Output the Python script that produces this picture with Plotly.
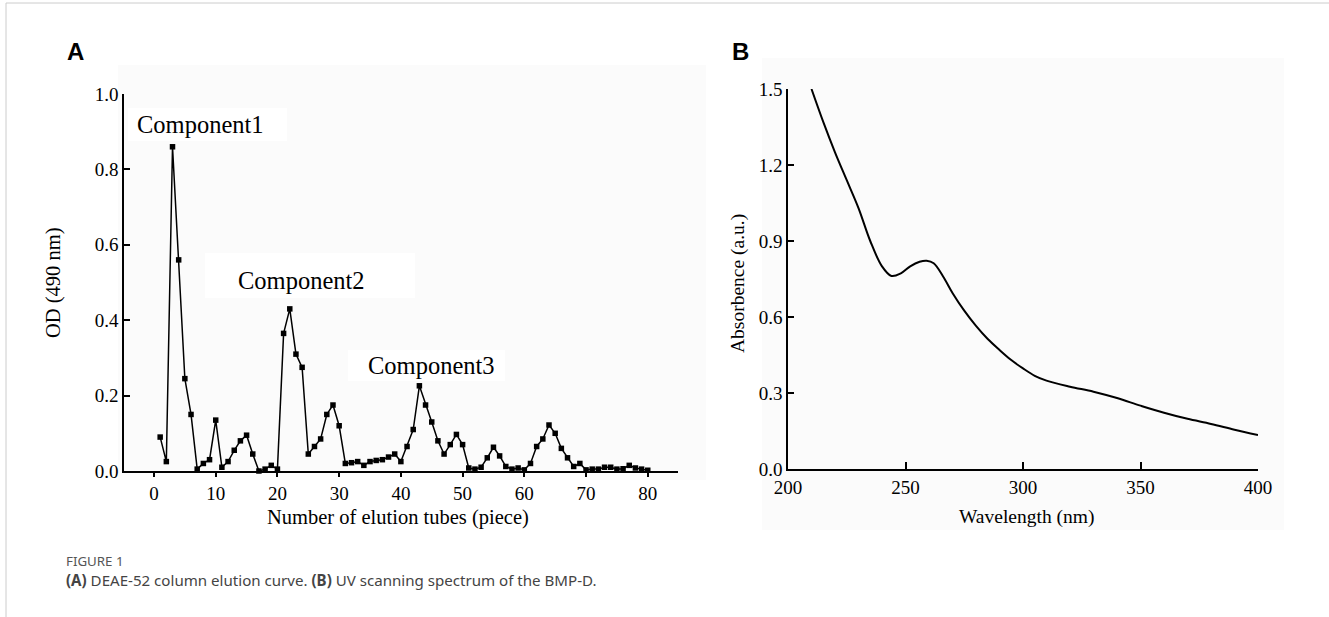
import plotly.graph_objects as go

# Panel A: DEAE-52 elution curve
tubes = list(range(1, 81))
od490 = [0.09, 0.025, 0.86, 0.56, 0.245, 0.15, 0.005, 0.02, 0.03, 0.135,
         0.01, 0.025, 0.055, 0.08, 0.095, 0.045, 0.0, 0.005, 0.015, 0.005,
         0.365, 0.43, 0.31, 0.275, 0.045, 0.065, 0.085, 0.15, 0.175, 0.12,
         0.02, 0.022, 0.025, 0.015, 0.025, 0.028, 0.03, 0.037, 0.045, 0.025,
         0.065, 0.11, 0.226, 0.175, 0.13, 0.08, 0.045, 0.07, 0.097, 0.07,
         0.008, 0.005, 0.01, 0.035, 0.063, 0.04, 0.012, 0.005, 0.008, 0.003,
         0.02, 0.065, 0.085, 0.122, 0.1, 0.06, 0.035, 0.012, 0.02, 0.003,
         0.005, 0.005, 0.01, 0.01, 0.005, 0.006, 0.015, 0.008, 0.005, 0.002]
component_labels = ["Component1", "Component2", "Component3"]
component_x = [-3.1, 13.3, 34.3]
component_y = [0.918, 0.504, 0.279]

# Panel B: UV scanning spectrum
wavelength = [210, 215, 220, 225, 230, 235, 240, 244, 248, 252, 256, 259, 262,
              266, 270, 275, 280, 285, 290, 295, 300, 305, 310, 320, 330, 340, 350,
              360, 370, 380, 390, 400]
absorbance = [1.50, 1.37, 1.25, 1.14, 1.03, 0.90, 0.80, 0.762, 0.772, 0.80, 0.818,
              0.822, 0.812, 0.76, 0.695, 0.625, 0.565, 0.513, 0.47, 0.43, 0.397,
              0.368, 0.349, 0.325, 0.305, 0.28, 0.25, 0.222, 0.198, 0.178, 0.155, 0.134]

serif = "Liberation Serif, Times New Roman, serif"
sans = "Noto Sans, Open Sans, sans-serif"

fig = go.Figure()
fig.add_trace(go.Scatter(x=tubes, y=od490, mode="lines+markers",
                         line=dict(color="black", width=1.5),
                         marker=dict(symbol="square", size=5.5, color="black"),
                         cliponaxis=False, xaxis="x", yaxis="y", showlegend=False))
fig.add_trace(go.Scatter(x=wavelength, y=absorbance, mode="lines",
                         line=dict(color="black", width=2, shape="spline", smoothing=1.0),
                         cliponaxis=False, xaxis="x2", yaxis="y2", showlegend=False))

W, H = 1329, 617
axis_common = dict(showline=True, linecolor="black", linewidth=1.5, showgrid=False,
                   zeroline=False, ticks="inside", tickcolor="black", ticklen=6,
                   tickwidth=1.5, automargin=False,
                   tickfont=dict(family=serif, size=19, color="black"))

fig.update_layout(
    template="none",
    width=W, height=H, margin=dict(l=0, r=0, t=0, b=0, pad=0),
    paper_bgcolor="white", plot_bgcolor="rgba(0,0,0,0)",
    xaxis=dict(domain=[124 / W, 678 / W], range=[-4.86, 84.9], tickvals=list(range(0, 81, 10)),
               anchor="y", **{**axis_common, "ticks": "outside", "ticklen": 4}),
    yaxis=dict(domain=[1 - 471 / H, 1 - 94 / H], range=[0, 1.0], tickvals=[0, 0.2, 0.4, 0.6, 0.8, 1.0],
               tickformat=".1f", anchor="x", **axis_common),
    xaxis2=dict(domain=[788 / W, 1258 / W], range=[200, 400], tickvals=[200, 250, 300, 350, 400],
                anchor="y2", **{**axis_common, "ticklen": 7}),
    yaxis2=dict(domain=[1 - 469 / H, 1 - 89 / H], range=[0, 1.5], tickvals=[0, 0.3, 0.6, 0.9, 1.2, 1.5],
                tickformat=".1f", anchor="x2", **axis_common),
)

annotations = []
for lab, cx, cy in zip(component_labels, component_x, component_y):
    annotations.append(dict(x=cx, y=cy, xref="x", yref="y", text=lab, showarrow=False,
                            xanchor="left", yanchor="middle",
                            font=dict(family=serif, size=24.5, color="black")))

def pap(px, py, text, size, family, color="black", xanchor="left", textangle=0):
    return dict(x=px / W, y=1 - py / H, xref="paper", yref="paper", text=text, showarrow=False,
                xanchor=xanchor, yanchor="middle", textangle=textangle,
                font=dict(family=family, size=size, color=color))

annotations += [
    pap(65, 52, "<b>A</b>", 24, "Liberation Sans, Arial, sans-serif"),
    pap(730, 52, "<b>B</b>", 24, "Liberation Sans, Arial, sans-serif"),
    pap(53, 283, "OD (490 nm)", 20.5, serif, xanchor="center", textangle=-90),
    pap(398, 517, "Number of elution tubes (piece)", 20.5, serif, xanchor="center"),
    pap(738, 283, "Absorbence (a.u.)", 19.5, serif, xanchor="center", textangle=-90),
    pap(1026, 517, "Wavelength (nm)", 19.5, serif, xanchor="center"),
    pap(64, 561, "FIGURE 1", 13.3, sans, color="#555555"),
    pap(64, 580, "<b>(A)</b> DEAE-52 column elution curve. <b>(B)</b> UV scanning spectrum of the BMP-D.",
        15.1, sans, color="#444444"),
]
fig.update_layout(annotations=annotations)

def prect(x0, y0, x1, y1, fill):
    return dict(type="rect", xref="paper", yref="paper", x0=x0 / W, x1=x1 / W,
                y0=1 - y1 / H, y1=1 - y0 / H, fillcolor=fill, line=dict(width=0), layer="below")

fig.update_layout(shapes=[
    prect(118, 65, 706, 480, "#fbfbfb"),
    prect(762, 58, 1284, 530, "#fbfbfb"),
    prect(128, 108, 287, 141, "white"),
    prect(205, 253, 415, 298, "white"),
    prect(348, 350, 505, 381, "white"),
    dict(type="line", xref="paper", yref="paper", x0=6 / W, x1=6 / W, y0=0, y1=1 - 3 / H,
         line=dict(color="#cccccc", width=1)),
    dict(type="line", xref="paper", yref="paper", x0=6 / W, x1=1, y0=1 - 3 / H, y1=1 - 3 / H,
         line=dict(color="#cccccc", width=1)),
])

fig.write_html("out.html",
               post_script="document.body.style.margin='0';document.body.style.overflow='hidden';"
                           "document.documentElement.style.overflow='hidden';")
